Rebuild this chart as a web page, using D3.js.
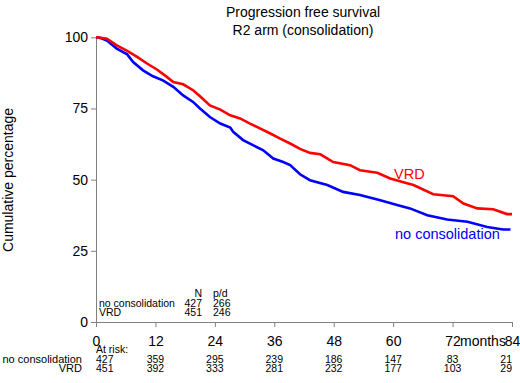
<!DOCTYPE html>
<html lang="en">
  <head>
    <meta charset="UTF-8" />
    <title>Progression free survival</title>
    <style>
      body { margin: 0; background: #fff; }
      svg { font-family: Arial, "Liberation Sans", sans-serif; }
    </style>
  </head>
  <body>
    <script src="https://cdn.jsdelivr.net/npm/d3@7"></script>
    <script>
      // curve readings (months, % progression free)
      var vrdMonths = [0, 0.2, 2.2, 4.2, 6.3, 8.3, 10.3, 12.3, 14.3, 15.6, 17.6, 19.6, 21, 23, 25.1, 27.1, 29.1, 31.1, 33.1, 35.2, 37.2, 39.2, 41.2, 43.2, 45.3, 47.9, 51.3, 53.3, 56.8, 59.4, 62.8, 64.1, 68.1, 72.1, 74.2, 77.0, 80.2, 83.0, 84];
      var vrdSurv = [100, 100, 99.5, 97.2, 95.2, 93.1, 90.8, 88.7, 86.1, 84.3, 83.5, 81.4, 79.3, 76.1, 74.6, 72.6, 71.5, 69.7, 68, 66.2, 64.4, 62.7, 60.8, 59.4, 58.9, 56.2, 55.1, 53.3, 52.4, 50.4, 48.7, 48.1, 44.9, 44.2, 41.6, 39.9, 39.6, 37.9, 37.9];

      var noConsMonths = [0, 0.8, 2.2, 4.2, 6.3, 7.5, 9.5, 11.5, 13.5, 15.6, 17.6, 19.6, 21, 23, 25.1, 27.1, 27.7, 29.7, 31.7, 33.7, 35.8, 37.8, 39.2, 41.2, 43.2, 46.7, 49.9, 53.3, 57.4, 60.8, 63.4, 66.9, 70.9, 75.0, 79.0, 82.2, 83.7];
      var noConsSurv = [100, 99.8, 98.9, 96, 94, 91.3, 88.4, 86.3, 84.9, 82.6, 79.6, 77.3, 75, 72, 69.7, 68.3, 66.8, 63.9, 62.1, 60.4, 57.4, 56.2, 55.1, 51.9, 49.8, 48.1, 45.7, 44.6, 42.8, 41.1, 39.9, 37.5, 36, 35.2, 33.4, 32.5, 32.5];

      var xTicks = [0, 12, 24, 36, 48, 60, 72, 84];
      var yTicks = [0, 25, 50, 75, 100];

      var groups = ["no consolidation", "VRD"];
      var groupN = [427, 451];
      var groupPD = [266, 246];

      var riskNoCons = [427, 359, 295, 239, 186, 147, 83, 21];
      var riskVRD = [451, 392, 333, 281, 232, 177, 103, 29];

      var w = 520, h = 383;

      var svg = d3.select("body").append("svg")
                  .attr("width", w)
                  .attr("height", h);

      var xScale = d3.scaleLinear().domain([0, 84]).range([96, 512]);
      var yScale = d3.scaleLinear().domain([0, 100]).range([322, 37.3]);

      // title
      svg.append("text").attr("x", 303).attr("y", 17)
         .attr("text-anchor", "middle").style("font-size", "14px")
         .text("Progression free survival");
      svg.append("text").attr("x", 303).attr("y", 35)
         .attr("text-anchor", "middle").style("font-size", "14px")
         .text("R2 arm (consolidation)");

      // axes
      var xAxis = svg.append("g")
         .attr("transform", "translate(0," + yScale(0) + ")")
         .call(d3.axisBottom(xScale).tickValues(xTicks).tickSize(5).tickSizeOuter(0));
      xAxis.selectAll("text").attr("y", 24).attr("dy", 0)
           .style("font-size", "14px").style("font-family", "Arial, 'Liberation Sans', sans-serif");

      var yAxis = svg.append("g")
         .attr("transform", "translate(" + xScale(0) + ",0)")
         .call(d3.axisLeft(yScale).tickValues(yTicks).tickSize(5).tickSizeOuter(0));
      yAxis.selectAll("text").attr("x", -8)
           .style("font-size", "14px").style("font-family", "Arial, 'Liberation Sans', sans-serif");

      svg.selectAll(".domain, .tick line").attr("stroke", "#808080");
      svg.selectAll(".tick text").attr("fill", "#000");

      svg.append("text").attr("x", 460).attr("y", 346)
         .style("font-size", "14px").text("months");

      svg.append("text")
         .attr("transform", "translate(13,180) rotate(-90)")
         .attr("text-anchor", "middle").style("font-size", "14px")
         .text("Cumulative percentage");

      // curves
      var line = d3.line()
                   .x(function(d) { return xScale(d[0]); })
                   .y(function(d) { return yScale(d[1]); });

      svg.append("path")
         .datum(d3.zip(noConsMonths, noConsSurv))
         .attr("fill", "none").attr("stroke", "#0000ff").attr("stroke-width", 2.6)
         .attr("d", line);

      svg.append("path")
         .datum(d3.zip(vrdMonths, vrdSurv))
         .attr("fill", "none").attr("stroke", "#ff0000").attr("stroke-width", 2.6)
         .attr("d", line);

      svg.append("text").attr("x", 394).attr("y", 179)
         .attr("fill", "#ff0000").style("font-size", "14.5px").text("VRD");
      svg.append("text").attr("x", 395).attr("y", 239)
         .attr("fill", "#0000ff").style("font-size", "14.5px").text("no consolidation");

      // N / p/d table
      var small = "10.5px";
      svg.append("text").attr("x", 202).attr("y", 297).attr("text-anchor", "end")
         .style("font-size", small).text("N");
      svg.append("text").attr("x", 213).attr("y", 297)
         .style("font-size", small).text("p/d");
      groups.forEach(function(g, i) {
        var yy = 307 + i * 9;
        svg.append("text").attr("x", 99).attr("y", yy).style("font-size", small).text(g);
        svg.append("text").attr("x", 202).attr("y", yy).attr("text-anchor", "end")
           .style("font-size", small).text(groupN[i]);
        svg.append("text").attr("x", 213).attr("y", yy)
           .style("font-size", small).text(groupPD[i]);
      });

      // at risk
      svg.append("text").attr("x", 96).attr("y", 353)
         .style("font-size", small).text("At risk:");
      [riskNoCons, riskVRD].forEach(function(row, i) {
        var yy = 363 + i * 8.5;
        svg.append("text").attr("x", 82).attr("y", yy).attr("text-anchor", "end")
           .style("font-size", "11px").text(groups[i]);
        svg.selectAll(null).data(row).enter().append("text")
           .attr("x", function(d, j) { return xScale(xTicks[j]); })
           .attr("y", yy)
           .attr("text-anchor", function(d, j) {
             return j === 0 ? "start" : (j === row.length - 1 ? "end" : "middle"); })
           .style("font-size", small)
           .text(function(d) { return d; });
      });
    </script>
  </body>
</html>
